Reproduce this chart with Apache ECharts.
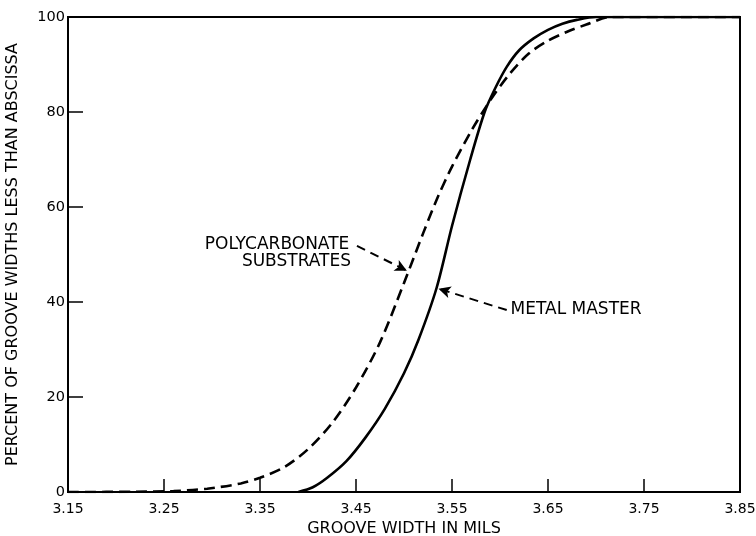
<!DOCTYPE html>
<html><head><meta charset="utf-8">
<script src="https://cdn.jsdelivr.net/npm/echarts@6/dist/echarts.min.js"></script>
<style>html,body{margin:0;padding:0;background:#fff}#c{width:756px;height:536px}</style>
</head><body><div id="c"></div>
<script>
// Tick labels
var xTicks = [3.15, 3.25, 3.35, 3.45, 3.55, 3.65, 3.75, 3.85];
var yTicks = [0, 20, 40, 60, 80, 100];

// Metal master (solid)
var metalX = [3.39, 3.405, 3.42, 3.44, 3.46, 3.48, 3.50, 3.515, 3.534, 3.55, 3.569, 3.584, 3.595, 3.607, 3.62, 3.635, 3.65, 3.665, 3.68, 3.70, 3.85];
var metalY = [0, 1, 3, 6.5, 11.5, 17.5, 25, 32, 43, 56, 70, 80, 85, 89.5, 93, 95.5, 97.3, 98.6, 99.4, 100, 100];

// Polycarbonate substrates (dashed)
var polyX = [3.15, 3.22, 3.26, 3.295, 3.33, 3.35, 3.375, 3.40, 3.425, 3.45, 3.475, 3.50, 3.52, 3.535, 3.55, 3.57, 3.59, 3.61, 3.63, 3.65, 3.67, 3.69, 3.715, 3.85];
var polyY = [0, 0.05, 0.2, 0.7, 1.8, 3, 5.2, 9, 14.5, 22, 31.5, 44, 54.5, 62, 68.5, 76, 82.5, 88, 92.3, 95, 96.9, 98.4, 100, 100];

function pairs(xs, ys) { return xs.map(function (x, i) { return [x, ys[i]]; }); }

var FONT = 'DejaVu Sans, Verdana, sans-serif';
var chart = echarts.init(document.getElementById('c'), null, {renderer: 'canvas'});
chart.setOption({
  animation: false,
  backgroundColor: '#fff',
  grid: {left: 68, right: 16, top: 17, bottom: 44, containLabel: false, outerBoundsMode: 'none',
         show: true, borderColor: '#000', borderWidth: 2, backgroundColor: 'transparent'},
  xAxis: {
    type: 'value', min: 3.15, max: 3.85,
    name: 'GROOVE WIDTH IN MILS', nameLocation: 'middle', nameGap: 27,
    nameTextStyle: {fontFamily: FONT, fontSize: 16, color: '#000'},
    axisLine: {show: true, onZero: false, lineStyle: {color: '#000', width: 2}},
    axisTick: {show: true, inside: true, length: 13, lineStyle: {color: '#000', width: 1.5}, customValues: xTicks},
    axisLabel: {customValues: xTicks, formatter: function (v) { return v.toFixed(2); }, fontFamily: FONT, fontSize: 14, color: '#000', margin: 10},
    splitLine: {show: false}
  },
  yAxis: {
    type: 'value', min: 0, max: 100, interval: 20,
    name: 'PERCENT OF GROOVE WIDTHS LESS THAN ABSCISSA', nameLocation: 'middle', nameGap: 47,
    nameTextStyle: {fontFamily: FONT, fontSize: 16, color: '#000'},
    axisLine: {show: true, onZero: false, lineStyle: {color: '#000', width: 2}},
    axisTick: {show: true, inside: true, length: 15, lineStyle: {color: '#000', width: 1.5}},
    axisLabel: {fontFamily: FONT, fontSize: 14.5, color: '#000', margin: 3},
    splitLine: {show: false}
  },
  series: [
    {
      name: 'METAL MASTER', type: 'line', data: pairs(metalX, metalY),
      smooth: 0.3, showSymbol: false, symbol: 'none',
      lineStyle: {color: '#000', width: 2.6}, z: 3,
      markLine: {
        silent: true, symbol: ['none', 'arrow'], symbolSize: [9, 12],
        label: {show: false},
        lineStyle: {type: [9, 6], color: '#000', width: 2, curveness: 0.2},
        data: [[{coord: [3.607, 38.3]}, {coord: [3.536, 42.8]}]]
      },
      markPoint: {
        symbol: 'circle', symbolSize: 0, silent: true,
        label: {show: true, position: 'right', distance: 0, fontFamily: FONT, fontSize: 17, color: '#000',
                formatter: function (p) { return p.name; }},
        data: [{name: 'METAL MASTER', coord: [3.611, 38.3]}]
      }
    },
    {
      name: 'POLYCARBONATE SUBSTRATES', type: 'line', data: pairs(polyX, polyY),
      smooth: 0.3, showSymbol: false, symbol: 'none',
      lineStyle: {color: '#000', width: 2.6, type: [11, 6]}, z: 2,
      markLine: {
        silent: true, symbol: ['none', 'arrow'], symbolSize: [9, 12],
        label: {show: false},
        lineStyle: {type: [9, 6], color: '#000', width: 2, curveness: 0.35},
        data: [[{coord: [3.451, 51.8]}, {coord: [3.503, 46.6]}]]
      },
      markPoint: {
        symbol: 'circle', symbolSize: 0, silent: true,
        label: {show: true, position: 'left', distance: 0, fontFamily: FONT, fontSize: 17, color: '#000',
                formatter: function (p) { return p.name; }},
        data: [
          {name: 'POLYCARBONATE', coord: [3.443, 52.0]},
          {name: 'SUBSTRATES', coord: [3.4448, 48.5]}
        ]
      }
    }
  ]
});
</script>
</body></html>
